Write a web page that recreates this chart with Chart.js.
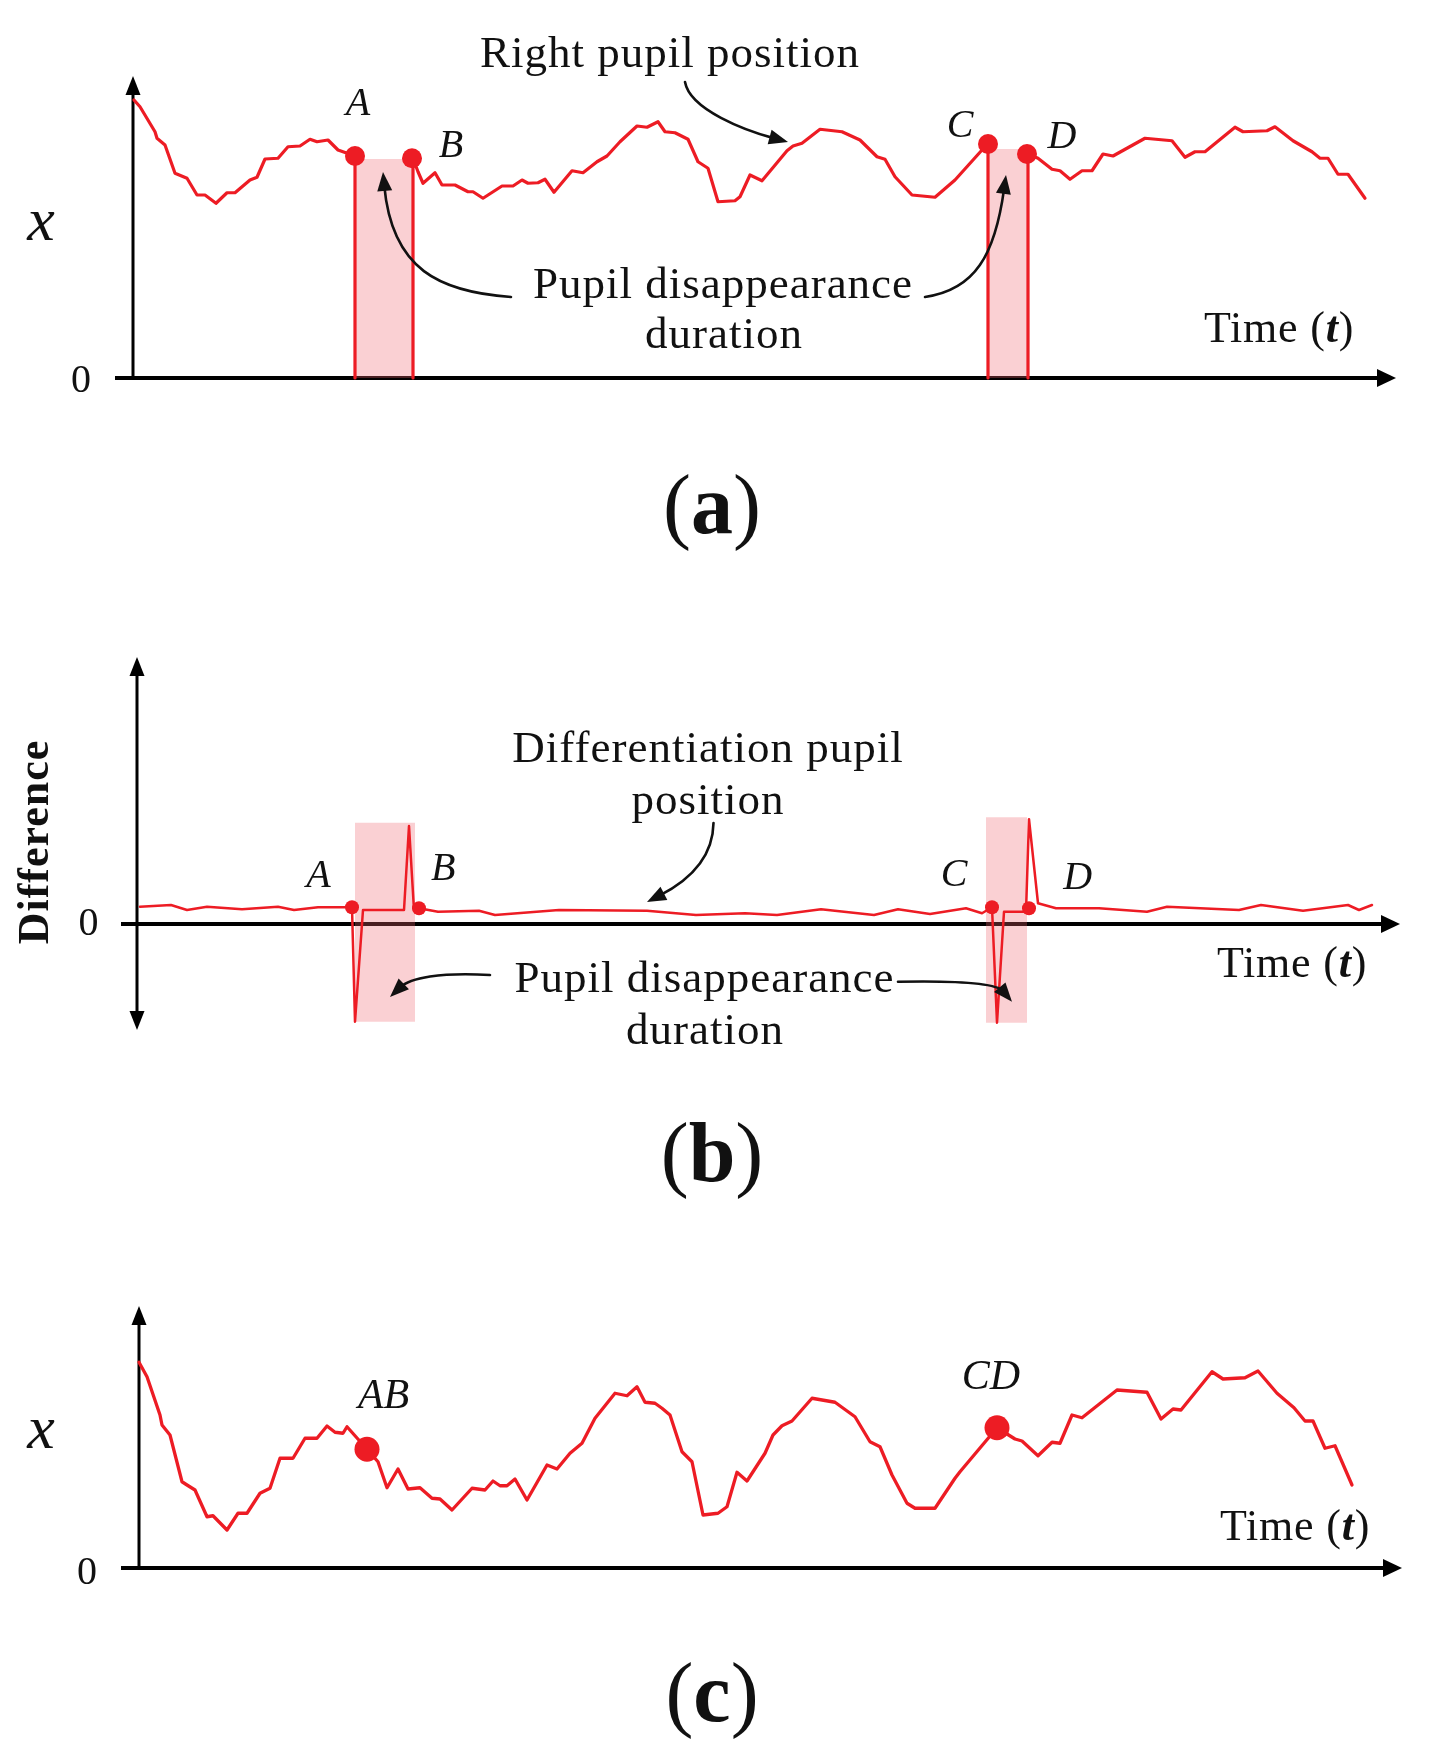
<!DOCTYPE html>
<html><head><meta charset="utf-8">
<script src="https://cdn.jsdelivr.net/npm/chart.js@4.4.1/dist/chart.umd.min.js"></script>
<style>
html,body{margin:0;padding:0;background:#fff;}
#wrap{position:relative;width:1430px;height:1752px;overflow:hidden;}
canvas{position:absolute;left:0;}
</style></head><body>
<div id="wrap">
<canvas id="ca" width="1430" height="600" style="top:0px"></canvas>
<canvas id="cb" width="1430" height="600" style="top:600px"></canvas>
<canvas id="cc" width="1430" height="552" style="top:1200px"></canvas>
</div>
<script>
// ===== DATA (time t, value) =====
// Panel (a): right pupil position, null = pupil disappeared
const curveA = [[0.1,111.2],[0.7,108.5],[2.2,98.5],[2.4,95.9],[3.2,93.2],[4.2,81.9],[5.4,79.9],[6.4,73.2],[7.2,73.2],[8.3,69.9],[9.4,74.1],[10.2,74.1],[11.7,79.2],[12.4,80.3],[13.2,87.6],[14.5,87.9],[15.5,92.5],[16.7,92.8],[17.7,95.5],[18.4,94.5],[19.5,95.2],[20.5,91.2],[22.2,88.8],[22.2,0],[25,null],[28.0,0],[28.0,87.9],[28.5,82.5],[29.0,77.9],[30.2,82.1],[30.9,77.2],[32.2,77.2],[33.5,74.5],[34.0,74.5],[35.0,71.9],[36.9,76.8],[38.0,76.8],[38.9,79.2],[39.5,77.9],[40.5,78.1],[41.2,79.5],[42.1,74.3],[43.9,82.9],[45.0,82.1],[46.4,86.5],[47.4,88.8],[48.7,94.5],[50.4,100.8],[51.4,100.3],[52.5,102.5],[53.2,98.5],[54.2,98.1],[55.5,95.5],[56.5,86.5],[57.5,83.9],[58.5,70.5],[60.2,70.9],[60.7,72.5],[61.7,81.2],[62.9,78.9],[65.4,90.9],[66.0,92.8],[66.9,93.9],[68.7,99.5],[70.9,98.5],[72.7,95.2],[74.4,88.5],[75.2,87.5],[76.2,80.5],[77.9,73.2],[80.2,72.3],[82.2,79.2],[84.9,91.2],[85.5,93.6],[85.5,0],[87.5,null],[89.5,0],[89.5,89.6],[90.5,87.9],[91.9,83.5],[92.7,82.9],[93.7,79.5],[94.9,82.9],[95.9,82.9],[97.0,89.6],[98.0,88.8],[101.2,95.9],[103.9,94.9],[105.2,88.3],[106.2,90.5],[107.2,90.5],[110.2,100.3],[111.0,98.5],[113.4,98.9],[114.2,100.5],[116.0,94.9],[117.9,90.5],[118.7,87.9],[119.5,87.9],[120.5,81.5],[121.5,81.5],[123.2,71.9]];
const markerNamesA = ['A','B','C','D'];
const markerTimesA = [22.2,27.9,85.5,89.4];
const markerValuesA = [88.8,87.9,93.6,89.6];
const shadeStartA = [22.2,85.5];
const shadeEndA = [28.0,89.5];
const shadeTopA = [87.6,91.6];
const shadeBottomA = [0,0];

// Panel (b): differentiation of pupil position
const curveB = [[0.3,6.9],[3.4,7.6],[5.0,5.6],[7.0,6.9],[10.5,5.9],[14.1,6.9],[15.7,5.6],[18.1,6.7],[21.5,6.7],[21.8,-39.1],[22.6,5.6],[26.7,5.6],[27.2,39.2],[27.7,5.6],[28.2,6.3],[30.1,4.9],[34.2,5.3],[35.8,3.6],[42.2,5.6],[51.0,5.3],[55.9,3.6],[60.8,4.3],[64.0,3.6],[68.4,5.9],[73.7,3.6],[76.1,5.9],[79.3,4.0],[82.9,6.3],[84.5,4.3],[85.5,6.7],[86.0,-39.5],[86.7,4.9],[88.9,4.9],[89.2,41.9],[90.1,8.3],[91.9,6.3],[96.2,6.3],[101.0,4.9],[103.0,6.9],[110.2,5.6],[112.4,7.6],[116.6,5.3],[121.1,7.6],[122.2,5.6],[123.5,7.6]];
const markerNamesB = ['A','B','C','D'];
const markerTimesB = [21.5,28.2,85.5,89.2];
const markerValuesB = [6.7,6.3,6.7,6.3];
const shadeStartB = [21.8,84.9];
const shadeEndB = [27.8,89.0];
const shadeTopB = [40.5,42.7];
const shadeBottomB = [-39.1,-39.5];

// Panel (c): position with gaps removed
const curveC = [[0.0,82.3],[0.8,76.5],[2.1,61.2],[2.3,57.2],[3.1,53.2],[4.3,34.5],[4.8,33.2],[5.6,31.2],[6.8,20.5],[7.4,20.9],[8.8,15.2],[9.9,21.9],[10.8,21.9],[12.1,29.9],[13.1,31.9],[14.1,43.9],[15.4,43.9],[16.6,51.9],[17.8,51.9],[18.8,56.8],[19.6,54.3],[20.4,53.9],[20.8,56.5],[22.8,47.5],[23.9,42.5],[24.8,32.1],[25.9,39.6],[26.9,31.6],[28.1,32.1],[29.3,27.9],[30.1,27.6],[31.3,23.2],[33.3,31.9],[34.6,31.2],[35.4,34.8],[36.1,32.9],[36.8,32.9],[37.6,35.6],[38.8,27.2],[40.8,41.2],[41.8,39.6],[43.1,45.9],[44.3,49.9],[45.6,59.9],[47.6,69.9],[48.8,68.9],[49.8,72.5],[50.6,66.3],[51.6,65.9],[52.3,63.9],[53.1,61.2],[54.3,46.5],[55.3,42.5],[56.4,21.2],[57.9,21.9],[58.8,24.5],[59.8,38.3],[60.8,34.8],[62.6,45.9],[63.4,53.2],[64.3,56.9],[65.3,58.8],[67.3,67.9],[69.6,66.3],[71.6,60.5],[73.1,50.5],[74.1,48.5],[75.3,37.2],[76.8,25.9],[77.6,23.9],[79.6,23.9],[81.6,35.9],[82.1,38.5],[85.8,56.1],[87.6,51.6],[88.3,50.8],[89.9,44.9],[91.3,50.3],[92.1,49.9],[93.3,61.2],[94.3,60.1],[97.8,71.2],[100.8,70.3],[102.2,59.6],[103.4,63.6],[104.2,63.2],[107.3,78.5],[108.4,75.6],[110.6,76.1],[111.9,78.8],[113.8,69.9],[115.5,64.1],[116.6,58.8],[117.4,58.8],[118.6,47.9],[119.6,48.9],[121.3,33.2]];
const markerNamesC = ['AB','CD'];
const markerTimesC = [22.8,85.8];
const markerValuesC = [47.5,56.1];

// ===== STYLE =====
const RED = 'rgb(237,28,36)';
const SHADE = 'rgba(240,100,110,0.3)';
const SERIF = "'Liberation Serif','Times New Roman',serif";
function font(style, size){
  const s = style==='i'?'italic ':style==='b'?'bold ':style==='bi'?'italic bold ':'';
  return s + size + 'px ' + SERIF;
}
const TIME_PARTS = [['Time (','n'],['t','bi'],[')','n']];

const annotations = {
  ca: {
    axes:{yWidth:3, xWidth:4, leftOver:18, doubleY:false},
    labelSize:40, labelOffsets:[[3,-52],[39,-12],[-28,-17.5],[35,-16.5]],
    texts:[
      {parts:[['Right pupil position','n']], t:53.7, v:124.4, size:45, sp:1},
      {parts:[['Pupil disappearance','n']], t:59.0, v:32.0, size:45, sp:1},
      {parts:[['duration','n']], t:59.1, v:12.0, size:45, sp:1},
      {parts:TIME_PARTS, t:114.6, v:14.4, size:44, sp:0.8},
      {parts:[['x','i']], t:-9.2, v:55.2, size:62},
      {parts:[['0','n']], t:-5.2, v:-5.6, size:40}
    ],
    arrows:[
      [[55.2,118.4],[55.7,107.2],[61.3,98.9],[65.5,94.4]],
      [[37.8,32.4],[30.7,34.4],[25.9,43.2],[25.0,82.4]],
      [[79.2,32.4],[84.2,35.2],[86.2,49.2],[87.3,81.2]]
    ],
    panel:{text:'a', y:533}
  },
  cb: {
    axes:{yWidth:3, xWidth:4, leftOver:16, doubleY:true},
    labelSize:40, labelOffsets:[[-33.5,-30.6],[24.3,-38.3],[-37.8,-31.5],[48.7,-29.5]],
    texts:[
      {parts:[['Differentiation pupil','n']], t:57.1, v:65.0, size:45, sp:1},
      {parts:[['position','n']], t:57.1, v:44.2, size:45, sp:1},
      {parts:[['Pupil disappearance','n']], t:56.75, v:-27.2, size:45, sp:1},
      {parts:[['duration','n']], t:56.8, v:-48, size:45, sp:1},
      {parts:TIME_PARTS, t:115.5, v:-21.1, size:44, sp:0.8},
      {parts:[['Difference','b']], t:-10, v:32.8, size:44, rotate:true, sp:1},
      {parts:[['0','n']], t:-4.85, v:-4.2, size:40}
    ],
    arrows:[
      [[57.65,40.4],[57.6,26.4],[55.3,17.6],[51.0,8.8]],
      [[35.3,-20.4],[30.3,-19.2],[27.3,-21.6],[25.3,-29.2]],
      [[76.1,-23.1],[82.5,-22.6],[86.0,-24.0],[87.5,-31.1]]
    ],
    panel:{text:'b', y:581}
  },
  cc: {
    axes:{yWidth:3, xWidth:4, leftOver:18, doubleY:false},
    labelSize:42, labelOffsets:[[16.6,-51.8],[-6,-50]],
    texts:[
      {parts:TIME_PARTS, t:115.6, v:11.2, size:44, sp:0.8},
      {parts:[['x','i']], t:-9.8, v:48, size:62},
      {parts:[['0','n']], t:-5.2, v:-6.4, size:40}
    ],
    arrows:[],
    panel:{text:'c', y:521}
  }
};

function tri(ctx, tx, ty, dx, dy, len, half){
  const L = Math.hypot(dx,dy); dx/=L; dy/=L;
  const bx = tx - dx*len, by = ty - dy*len;
  ctx.beginPath();
  ctx.moveTo(tx,ty);
  ctx.lineTo(bx - dy*half, by + dx*half);
  ctx.lineTo(bx + dy*half, by - dx*half);
  ctx.closePath(); ctx.fill();
}
function drawParts(ctx, parts, x, y, size, sp){
  ctx.letterSpacing = (sp||0) + 'px';
  const w = parts.map(p=>{ctx.font = font(p[1], size); return ctx.measureText(p[0]).width;});
  let cx = x - w.reduce((a,b)=>a+b,0)/2;
  ctx.textAlign = 'left';
  parts.forEach((p,i)=>{ctx.font = font(p[1], size); ctx.fillText(p[0], cx, y); cx += w[i];});
  ctx.letterSpacing = '0px';
}

const sketchPlugin = {
  id:'sketch',
  beforeDatasetsDraw(chart){
    const a = annotations[chart.canvas.id].axes;
    const ctx = chart.ctx, X = chart.scales.x, Y = chart.scales.y, ca = chart.chartArea;
    const x0 = X.getPixelForValue(0), y0 = Y.getPixelForValue(0);
    ctx.save();
    ctx.strokeStyle = '#000'; ctx.fillStyle = '#000';
    const top = ca.top - 2, bottom = a.doubleY ? ca.bottom + 1 : y0 + 2;
    ctx.lineWidth = a.yWidth;
    ctx.beginPath(); ctx.moveTo(x0, a.doubleY ? bottom - 12 : bottom); ctx.lineTo(x0, top + 12); ctx.stroke();
    tri(ctx, x0, top, 0, -1, 19, 7.5);
    if (a.doubleY) tri(ctx, x0, bottom, 0, 1, 19, 7.5);
    const left = x0 - a.leftOver, right = ca.right + 3;
    ctx.lineWidth = a.xWidth;
    ctx.beginPath(); ctx.moveTo(left, y0); ctx.lineTo(right - 12, y0); ctx.stroke();
    tri(ctx, right, y0, 1, 0, 19, 9);
    ctx.restore();
  },
  afterDatasetsDraw(chart){
    const cfg = annotations[chart.canvas.id];
    const ctx = chart.ctx, X = chart.scales.x, Y = chart.scales.y;
    const px = t => X.getPixelForValue(t), py = v => Y.getPixelForValue(v);
    ctx.save();
    ctx.fillStyle = '#111'; ctx.strokeStyle = '#111';
    // curved arrows
    cfg.arrows.forEach(ar=>{
      const P = ar.map(p=>[px(p[0]), py(p[1])]);
      const dx = P[3][0]-P[2][0], dy = P[3][1]-P[2][1], L = Math.hypot(dx,dy);
      const ex = P[3][0] - dx/L*14, ey = P[3][1] - dy/L*14;
      ctx.lineWidth = 2.6; ctx.lineCap = 'round';
      ctx.beginPath(); ctx.moveTo(P[0][0],P[0][1]);
      ctx.bezierCurveTo(P[1][0],P[1][1],P[2][0],P[2][1],ex,ey); ctx.stroke();
      tri(ctx, P[3][0], P[3][1], dx, dy, 19, 7.5);
    });
    // texts
    ctx.textBaseline = 'alphabetic';
    cfg.texts.forEach(tx=>{
      const x = px(tx.t), y = py(tx.v);
      if (tx.rotate){
        ctx.save(); ctx.translate(x,y); ctx.rotate(-Math.PI/2);
        ctx.textBaseline = 'middle';
        drawParts(ctx, tx.parts, 0, 0, tx.size, tx.sp);
        ctx.restore(); ctx.textBaseline = 'alphabetic';
      } else drawParts(ctx, tx.parts, x, y, tx.size, tx.sp);
    });
    // marker labels
    const names = chart.data.datasets.find(d=>d.markerNames);
    if (names){
      ctx.textBaseline = 'middle';
      names.data.forEach((p,i)=>{
        const off = cfg.labelOffsets[i];
        drawParts(ctx, [[names.markerNames[i],'i']], px(p.x)+off[0], py(p.y)+off[1], cfg.labelSize, 0);
      });
    }
    // panel label: light parentheses, bold letter
    ctx.textBaseline = 'alphabetic';
    drawParts(ctx, [['(','n'],[cfg.panel.text,'b'],[')','n']], chart.width/2 - 3, cfg.panel.y, 84, 0);
    ctx.restore();
  }
};

function toXY(arr){ return arr.map(p=>({x:p[0], y:p[1]})); }

function buildChart(id, opt){
  const datasets = [];
  datasets.push({
    data: toXY(opt.curve), borderColor: RED, borderWidth: opt.lw, pointRadius: 0,
    tension: 0, fill: false, spanGaps: false, borderJoinStyle: 'round', borderCapStyle: 'round',
    clip: false, order: 2
  });
  datasets.push({
    data: opt.mTimes.map((t,i)=>({x:t, y:opt.mValues[i]})), markerNames: opt.mNames,
    showLine: false, pointRadius: opt.mr, pointBackgroundColor: RED, pointBorderWidth: 0,
    borderColor: RED, pointHoverRadius: opt.mr, clip: false, order: 1
  });
  (opt.sStart||[]).forEach((s,i)=>{
    datasets.push({
      data: [{x:s, y:opt.sTop[i]},{x:opt.sEnd[i], y:opt.sTop[i]}],
      fill: {value: opt.sBottom[i]}, backgroundColor: SHADE, borderColor: 'rgba(0,0,0,0)',
      borderWidth: 0, pointRadius: 0, tension: 0, clip: false, order: 3
    });
  });
  return new Chart(document.getElementById(id), {
    type: 'line',
    data: {datasets},
    options: {
      responsive: false, animation: false, events: [],
      layout: {padding: opt.pad},
      scales: {
        x: {type: 'linear', min: 0, max: 126, display: false},
        y: {type: 'linear', min: opt.yMin, max: opt.yMax, display: false}
      },
      plugins: {legend: {display: false}, tooltip: {enabled: false}}
    },
    plugins: [sketchPlugin]
  });
}

buildChart('ca', {curve: curveA, lw: 3.2, mNames: markerNamesA, mTimes: markerTimesA, mValues: markerValuesA, mr: 10,
  sStart: shadeStartA, sEnd: shadeEndA, sTop: shadeTopA, sBottom: shadeBottomA,
  yMin: 0, yMax: 120, pad: {left: 133, right: 37, top: 78, bottom: 222}});
buildChart('cb', {curve: curveB, lw: 2.5, mNames: markerNamesB, mTimes: markerTimesB, mValues: markerValuesB, mr: 7,
  sStart: shadeStartB, sEnd: shadeEndB, sTop: shadeTopB, sBottom: shadeBottomB,
  yMin: -42, yMax: 106, pad: {left: 137, right: 33, top: 59, bottom: 171}});
buildChart('cc', {curve: curveC, lw: 3.3, mNames: markerNamesC, mTimes: markerTimesC, mValues: markerValuesC, mr: 12.5,
  yMin: 0, yMax: 104, pad: {left: 139, right: 31, top: 108, bottom: 184}});
</script>
</body></html>
